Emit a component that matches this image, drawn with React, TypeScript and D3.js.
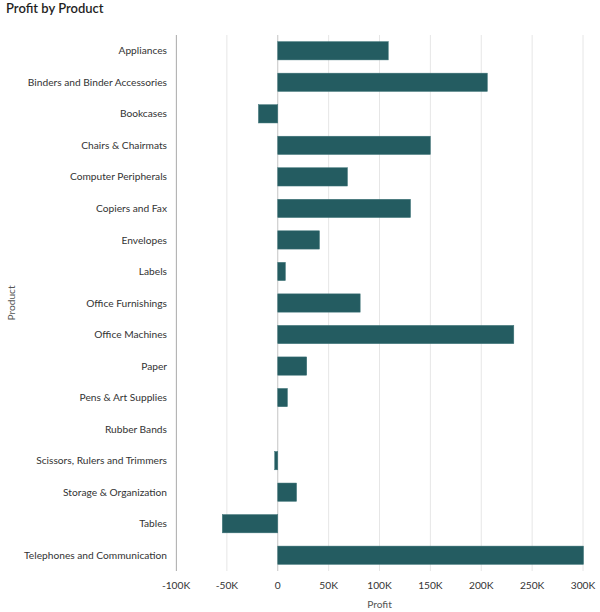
import * as d3 from "d3";
import { useEffect, useRef } from "react";

// product categories and profit values (in dollars)
const products = [
  "Appliances",
  "Binders and Binder Accessories",
  "Bookcases",
  "Chairs & Chairmats",
  "Computer Peripherals",
  "Copiers and Fax",
  "Envelopes",
  "Labels",
  "Office Furnishings",
  "Office Machines",
  "Paper",
  "Pens & Art Supplies",
  "Rubber Bands",
  "Scissors, Rulers and Trimmers",
  "Storage & Organization",
  "Tables",
  "Telephones and Communication",
];
const profit = [
  108600, 206000, -19000, 150000, 68500, 130500, 41000, 7500, 81000, 232000,
  28500, 9500, 0, -3000, 18500, -54500, 300500,
];
const xTicks = [-100000, -50000, 0, 50000, 100000, 150000, 200000, 250000, 300000];

const W = 600;
const H = 612;

export default function App() {
  const svgRef = useRef<SVGSVGElement>(null);

  useEffect(() => {
    const svg = d3.select(svgRef.current);
    svg.selectAll("*").remove();

    const margin = { top: 35, right: 17, bottom: 41, left: 176 };
    const width = W - margin.left - margin.right;
    const height = H - margin.top - margin.bottom;
    const font = "Lato, 'Open Sans', sans-serif";

    // title
    svg
      .append("text")
      .attr("x", 6)
      .attr("y", 13)
      .text("Profit by Product")
      .style("font-family", font)
      .style("font-size", "13px")
      .style("font-weight", 600)
      .style("fill", "#1f1f1f");

    const g = svg
      .append("g")
      .attr("transform", "translate(" + margin.left + "," + margin.top + ")");

    const x = d3.scaleLinear().domain([-100000, 300000]).range([0, width]);
    const y = d3.scaleBand().domain(products).range([0, height]).paddingInner(0.42).paddingOuter(0.21);

    // grid lines
    g.append("g")
      .selectAll("line")
      .data(xTicks)
      .enter()
      .append("line")
      .attr("x1", (d) => x(d))
      .attr("x2", (d) => x(d))
      .attr("y1", 0)
      .attr("y2", height)
      .style("stroke", (d) => (d === 0 ? "#c4c4c4" : "#e6e6e6"))
      .style("stroke-width", 1);

    // left axis line
    g.append("line")
      .attr("x1", 0.5)
      .attr("x2", 0.5)
      .attr("y1", 0)
      .attr("y2", height)
      .style("stroke", "#b5b5b5");

    // bars
    g.append("g")
      .selectAll("rect")
      .data(profit.filter((d) => d !== 0 || true))
      .enter()
      .append("rect")
      .attr("x", (d) => x(Math.min(0, d)))
      .attr("y", (d, i) => y(products[i])!)
      .attr("width", (d) => Math.abs(x(d) - x(0)))
      .attr("height", y.bandwidth())
      .style("fill", "#245c61")
      .style("stroke", (d) => (d === 0 ? "none" : "#3f7479"))
      .style("stroke-width", 0.5);

    // y category labels
    g.append("g")
      .selectAll("text")
      .data(products)
      .enter()
      .append("text")
      .attr("x", -9)
      .attr("y", (d) => y(d)! + y.bandwidth() / 2)
      .attr("dy", "0.35em")
      .attr("text-anchor", "end")
      .text((d) => d)
      .style("font-family", font)
      .style("font-size", "10.2px")
      .style("fill", "#333");

    // x tick labels
    const fmt = (d: number) => (d === 0 ? "0" : d / 1000 + "K");
    g.append("g")
      .selectAll("text")
      .data(xTicks)
      .enter()
      .append("text")
      .attr("x", (d) => x(d))
      .attr("y", height + 18)
      .attr("text-anchor", "middle")
      .text(fmt)
      .style("font-family", font)
      .style("font-size", "10.2px")
      .style("fill", "#333");

    // axis titles
    svg
      .append("text")
      .attr("x", margin.left + width / 2)
      .attr("y", 608)
      .attr("text-anchor", "middle")
      .text("Profit")
      .style("font-family", font)
      .style("font-size", "10.2px")
      .style("fill", "#555");

    svg
      .append("text")
      .attr("transform", "translate(15," + (margin.top + height / 2) + ") rotate(-90)")
      .attr("text-anchor", "middle")
      .text("Product")
      .style("font-family", font)
      .style("font-size", "10.2px")
      .style("fill", "#555");
  }, []);

  return (
    <svg
      ref={svgRef}
      width={W}
      height={H}
      style={{ position: "absolute", left: 0, top: 0, background: "#fff" }}
    />
  );
}
